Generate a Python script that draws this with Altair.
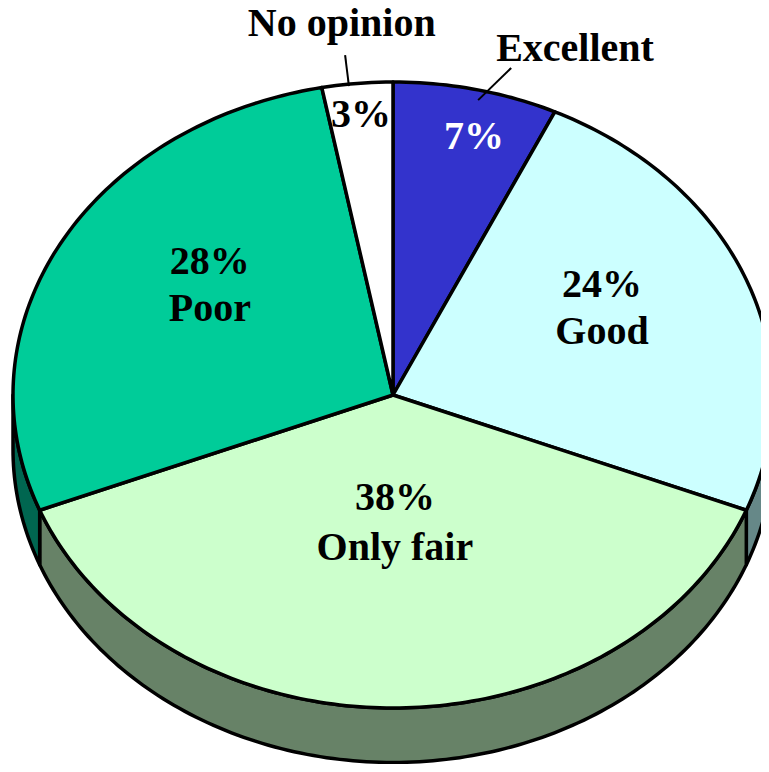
import math
import altair as alt
import pandas as pd

# ---- chart values ----
categories = ["Excellent", "Good", "Only fair", "Poor", "No opinion"]
shares = [7, 24, 38, 28, 3]
top_colors = ["#3333CC", "#CCFFFF", "#CCFFCC", "#00CC99", "#FFFFFF"]
wall_colors = ["#1A1A66", "#668888", "#678267", "#006650", "#808080"]

label_texts = ["No opinion", "Excellent", "3%", "7%", "24%", "Good", "28%", "Poor", "38%", "Only fair"]
label_x = [-0.135, 0.479, -0.084, 0.213, 0.55, 0.55, -0.482, -0.482, 0.005, 0.005]
label_y = [1.186, 1.106, 0.895, 0.824, 0.351, 0.201, 0.425, 0.275, -0.329, -0.489]
label_fill = ["black", "black", "black", "white", "black", "black", "black", "black", "black", "black"]

leader_group = ["no", "no", "ex", "ex"]
leader_x = [-0.126, -0.116, 0.311, 0.224]
leader_y = [1.086, 0.987, 1.045, 0.942]

# ---- geometry of the tilted disc, in radius units ----
DEPTH = 0.174
STEP = 1.0

def pt(t):
    r = math.radians(t)
    return math.sin(r), math.cos(r)

tops, walls = [], []
start = 0.0
for name, share, top, wall in zip(categories, shares, top_colors, wall_colors):
    a0, a1 = start * 3.6, (start + share) * 3.6
    start += share
    n = max(2, int((a1 - a0) / STEP))
    arc = [a0 + (a1 - a0) * i / n for i in range(n + 1)]
    pts = [(0.0, 0.0)] + [pt(t) for t in arc] + [(0.0, 0.0)]
    for i, (x, y) in enumerate(pts):
        tops.append(dict(slice=name, o=i, x=x, y=y, fill=top))
    lo, hi = max(a0, 90), min(a1, 270)
    if lo < hi:
        n = max(2, int((hi - lo) / STEP))
        arc = [lo + (hi - lo) * i / n for i in range(n + 1)]
        upper = [pt(t) for t in arc]
        lower = [(x, y - DEPTH) for x, y in reversed(upper)]
        poly = upper + lower + [upper[0]]
        for i, (x, y) in enumerate(poly):
            walls.append(dict(slice=name, o=i, x=x, y=y, fill=wall))

W, H = 753, 756
x_scale = alt.Scale(domain=[(8 - 393) / 380.0, (8 + W - 393) / 380.0], range=[0, W], nice=False, zero=False)
y_scale = alt.Scale(domain=[(395 - 8 - H) / 313.0, (395 - 8) / 313.0], range=[H, 0], nice=False, zero=False)
X = alt.X("x:Q", scale=x_scale, axis=None)
Y = alt.Y("y:Q", scale=y_scale, axis=None)

def polys(rows):
    return alt.Chart(pd.DataFrame(rows)).mark_line(
        filled=True, stroke="black", strokeWidth=3.5, strokeJoin="round", clip=True, interpolate="linear"
    ).encode(X, Y, order="o:Q", detail="slice:N", fill=alt.Fill("fill:N", scale=None))

leaders = alt.Chart(pd.DataFrame(dict(g=leader_group, x=leader_x, y=leader_y))).mark_line(
    color="black", strokeWidth=2
).encode(X, Y, detail="g:N")

labels = alt.Chart(pd.DataFrame(dict(t=label_texts, x=label_x, y=label_y, c=label_fill))).mark_text(
    font="Liberation Serif", fontWeight="bold", fontSize=40, align="center", baseline="middle"
).encode(X, Y, text="t:N", color=alt.Color("c:N", scale=None))

chart = alt.layer(polys(walls), polys(tops), leaders, labels).properties(
    width=W, height=H, padding=0, background="white", autosize=alt.AutoSizeParams(type="none")
).configure_view(stroke=None)

chart.save("out.html", embed_options={"renderer": "svg", "actions": False})
